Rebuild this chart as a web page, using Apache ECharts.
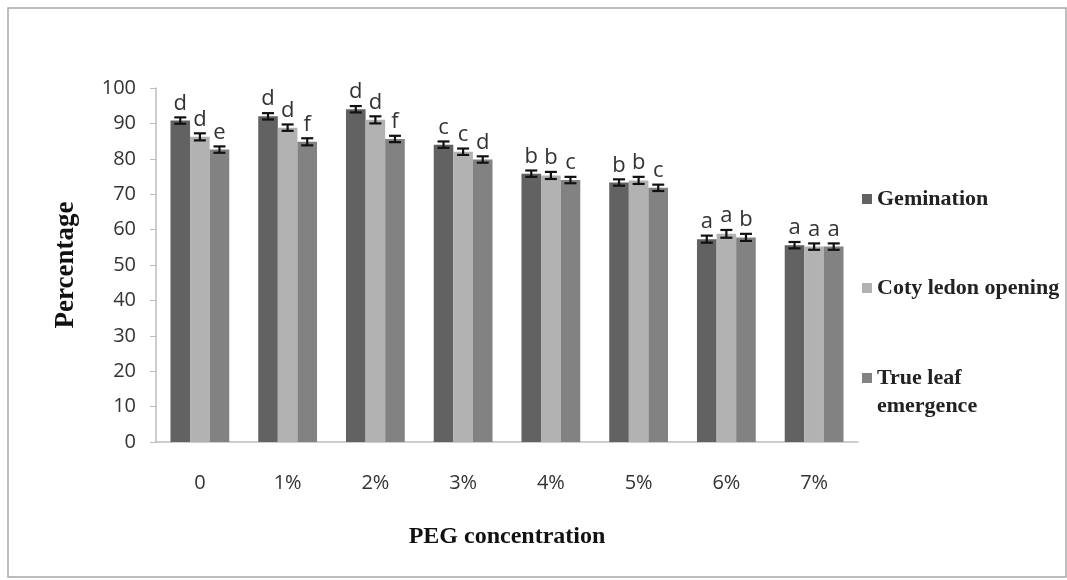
<!DOCTYPE html>
<html>
<head>
<meta charset="utf-8">
<script src="https://cdn.jsdelivr.net/npm/echarts@6/dist/echarts.min.js"></script>
<style>html,body{margin:0;padding:0;background:#fff}#c{width:1067px;height:580px}</style>
</head>
<body>
<div id="c"></div>
<script>
const categories = ['0', '1%', '2%', '3%', '4%', '5%', '6%', '7%'];
const seriesNames = ['Gemination', 'Coty ledon opening', 'True leaf emergence'];
const germination = [90.8, 92.0, 94.0, 84.0, 75.8, 73.3, 57.3, 55.6];
const cotyledon = [86.2, 88.8, 91.0, 82.0, 75.3, 73.9, 58.8, 55.2];
const trueLeaf = [82.6, 84.8, 85.6, 79.8, 74.0, 71.8, 57.8, 55.2];
const errGermination = [0.9, 0.9, 0.9, 0.9, 0.9, 0.9, 1.0, 0.9];
const errCotyledon = [1.0, 0.9, 1.0, 0.9, 1.0, 1.0, 1.1, 0.9];
const errTrueLeaf = [0.9, 1.0, 0.9, 0.9, 0.9, 0.9, 1.0, 0.9];
const lettersGermination = ['d', 'd', 'd', 'c', 'b', 'b', 'a', 'a'];
const lettersCotyledon = ['d', 'd', 'd', 'c', 'b', 'b', 'a', 'a'];
const lettersTrueLeaf = ['e', 'f', 'f', 'd', 'c', 'c', 'b', 'a'];
const yTicks = [0, 10, 20, 30, 40, 50, 60, 70, 80, 90, 100];

const values = [germination, cotyledon, trueLeaf];
const errs = [errGermination, errCotyledon, errTrueLeaf];
const letters = [lettersGermination, lettersCotyledon, lettersTrueLeaf];
const colors = ['#626262', '#b2b2b2', '#828282'];
const GAP = 0.33;

const chart = echarts.init(document.getElementById('c'));
const series = [];
seriesNames.forEach((n, i) => {
  series.push({
    name: n, type: 'bar', data: values[i], barGap: '0%', barCategoryGap: '33%',
    itemStyle: { color: colors[i] }, z: 2
  });
});
seriesNames.forEach((n, i) => {
  series.push({
    type: 'custom', name: n + '_err', z: 5,
    data: values[i].map((v, k) => [k, v, errs[i][k]]),
    encode: { x: 0, y: 1 },
    renderItem: function (params, api) {
      const k = api.value(0), v = api.value(1), e = api.value(2);
      const band = api.size([1, 0])[0];
      const bw = band * (1 - GAP) / 3;
      const c = api.coord([k, v]);
      const x = c[0] + (i - 1) * bw;
      const top = api.coord([k, v + e])[1];
      const bot = api.coord([k, v - e])[1];
      const cap = 6;
      const st = { stroke: '#111', lineWidth: 2.2 };
      return {
        type: 'group', children: [
          { type: 'line', shape: { x1: x, y1: top, x2: x, y2: bot }, style: st },
          { type: 'line', shape: { x1: x - cap, y1: top, x2: x + cap, y2: top }, style: st },
          { type: 'line', shape: { x1: x - cap, y1: bot, x2: x + cap, y2: bot }, style: st },
          { type: 'text', x: x, y: top - 3, style: {
              text: letters[i][k], fill: '#333', font: '22px "Open Sans", sans-serif',
              textAlign: 'center', textVerticalAlign: 'bottom' } }
        ]
      };
    }
  });
});

const legendText = { fontFamily: '"Liberation Serif", serif', fontWeight: 'bold', fontSize: 22, color: '#222', lineHeight: 28 };

chart.setOption({
  animation: false,
  backgroundColor: '#fff',
  graphic: [{
    type: 'rect', shape: { x: 8, y: 8, width: 1058, height: 569 },
    style: { fill: 'none', stroke: '#a8a8a8', lineWidth: 1.5 }, z: -1
  }],
  grid: { left: 156, right: 209, top: 88, bottom: 138 },
  legend: [{
    data: [seriesNames[0], seriesNames[1]], orient: 'vertical', left: 862, top: 185, padding: 0,
    itemWidth: 10, itemHeight: 10, itemGap: 61, icon: 'rect',
    textStyle: legendText
  }, {
    data: [seriesNames[2]],
    orient: 'vertical', left: 862, top: 336, padding: 0,
    itemWidth: 10, itemHeight: 10, icon: 'rect',
    formatter: function (n) { return '\n' + n.replace('True leaf ', 'True leaf\n'); },
    textStyle: legendText
  }],
  xAxis: {
    type: 'category', data: categories,
    name: 'PEG concentration', nameLocation: 'middle', nameGap: 83,
    nameTextStyle: { fontFamily: '"Liberation Serif", serif', fontWeight: 'bold', fontSize: 24, color: '#111' },
    axisLine: { lineStyle: { color: '#bdbdbd', width: 1.5 } },
    axisTick: { show: false },
    axisLabel: { margin: 31, fontSize: 20, color: '#333', fontFamily: '"Open Sans", sans-serif' }
  },
  yAxis: {
    type: 'value', min: 0, max: 100, interval: 10,
    name: 'Percentage', nameLocation: 'middle', nameGap: 76,
    nameTextStyle: { fontFamily: '"Liberation Serif", serif', fontWeight: 'bold', fontSize: 27, color: '#111' },
    axisLine: { show: true, lineStyle: { color: '#bdbdbd', width: 1.5 } },
    axisTick: { show: true, length: 6, lineStyle: { color: '#bdbdbd' } },
    splitLine: { show: false },
    axisLabel: { margin: 20, fontSize: 20, color: '#333', fontFamily: '"Open Sans", sans-serif',
      formatter: function (v) { return yTicks.indexOf(v) >= 0 ? String(v) : ''; } }
  },
  series: series
});
</script>
</body>
</html>
